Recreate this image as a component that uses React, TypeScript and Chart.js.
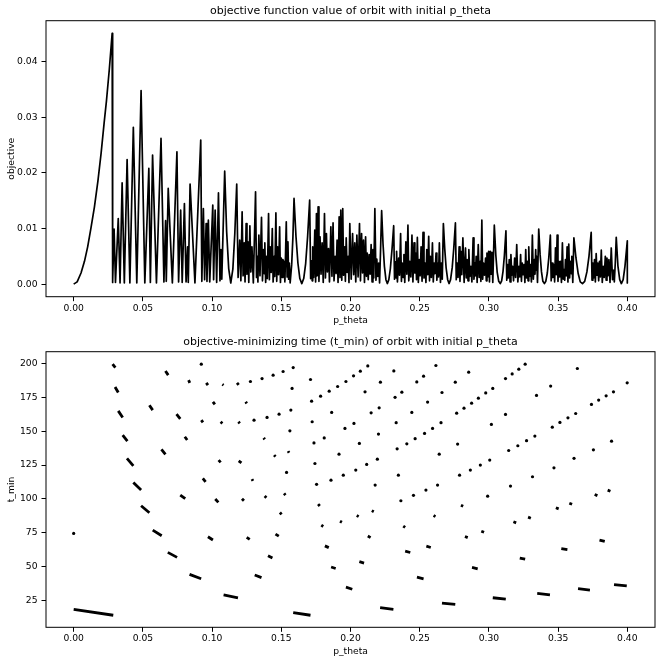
import React, { useRef, useEffect } from "react";
import Chart, { ChartConfiguration } from "chart.js/auto";

Chart.defaults.font.family = "'DejaVu Sans', sans-serif";
Chart.defaults.color = "#000";

const xTicks = [0, 0.05, 0.1, 0.15, 0.2, 0.25, 0.3, 0.35, 0.4];
const objectiveTicks = [0, 0.01, 0.02, 0.03, 0.04];
const tMinTicks = [25, 50, 75, 100, 125, 150, 175, 200];

// [p_theta, objective]
const objectiveCurve: [number, number][] = [
	[0, 0], [0.0025, 0.0004], [0.0053, 0.002], [0.0078, 0.0041], [0.0101, 0.0067], [0.0125, 0.0101],
	[0.015, 0.0139], [0.0175, 0.0185], [0.0198, 0.0235], [0.022, 0.029], [0.0237, 0.033], [0.0257, 0.0385],
	[0.0278, 0.0451], [0.0279, 0.0003],
	[0.0284, 0.0006], [0.0292, 0.0099], [0.0302, 0.0003], [0.0322, 0.0118], [0.0335, 0.0002], [0.035, 0.0182],
	[0.0366, 0.0002], [0.0386, 0.0224], [0.0406, 0.0002], [0.0431, 0.0282], [0.0456, 0.0002], [0.0487, 0.0348],
	[0.0514, 0.0002], [0.0543, 0.0208], [0.0554, 0.0003], [0.057, 0.0232], [0.0598, 0.0002], [0.0631, 0.0262],
	[0.0652, 0.0004], [0.0664, 0.0114], [0.0669, 0.0005], [0.0683, 0.0172], [0.0713, 0.0002], [0.0746, 0.0238],
	[0.0758, 0.0004], [0.0773, 0.0133], [0.0784, 0.0003], [0.08, 0.0145], [0.0812, 0.0004], [0.0823, 0.0067],
	[0.0828, 0.0003], [0.0841, 0.018], [0.0876, 0.0002], [0.0918, 0.0259], [0.0926, 0.0005], [0.0937, 0.0136],
	[0.0946, 0.0008], [0.0957, 0.0109], [0.0963, 0.0005], [0.0973, 0.0115], [0.0983, 0.0004], [0.1005, 0.0142],
	[0.1011, 0.0008], [0.1022, 0.0133], [0.1033, 0.0003], [0.1046, 0.0164], [0.1057, 0.0006], [0.1064, 0.0062],
	[0.107, 0.0009], [0.1091, 0.0203],
	[0.1105, 0.0095], [0.112, 0.0028], [0.1135, 0.0002], [0.115, 0.0027], [0.1164, 0.009], [0.1178, 0.018],
	[0.1188, 0.0012], [0.12, 0.0079], [0.1208, 0.0006], [0.1217, 0.013], [0.1224, 0.0015], [0.1232, 0.0074],
	[0.1238, 0.0004], [0.1246, 0.0109], [0.1252, 0.0018], [0.1259, 0.0076], [0.1265, 0.0003], [0.1273, 0.0105],
	[0.128, 0.0022], [0.1288, 0.0067], [0.1298, 0.0002], [0.1314, 0.0166], [0.1321, 0.0012], [0.1326, 0.005],
	[0.1331, 0.0004], [0.1338, 0.0088], [0.1346, 0.0015], [0.1357, 0.012], [0.1364, 0.0006], [0.1372, 0.0062],
	[0.1376, 0.0019], [0.1381, 0.0074], [0.1387, 0.0003], [0.1394, 0.005], [0.1399, 0.001], [0.1408, 0.0127],
	[0.1414, 0.0008], [0.142, 0.0067], [0.1427, 0.0021], [0.1435, 0.01], [0.1441, 0.0004], [0.1449, 0.005],
	[0.1453, 0.0014], [0.1461, 0.0128], [0.1467, 0.0005], [0.1473, 0.0067], [0.148, 0.0017], [0.1488, 0.0103],
	[0.1494, 0.0003], [0.15, 0.0047], [0.1506, 0.0012], [0.1512, 0.0044], [0.1516, 0.0018], [0.1519, 0.0041],
	[0.1526, 0.0004], [0.1536, 0.0112], [0.1542, 0.0013], [0.1548, 0.0076], [0.1553, 0.0009], [0.1558, 0.0038],
	[0.1564, 0.0002], [0.1575, 0.0035], [0.1584, 0.0085], [0.1592, 0.0154],
	[0.1606, 0.0086], [0.162, 0.0038], [0.1634, 0.001], [0.1648, 0.0001], [0.1662, 0.001], [0.1676, 0.0037],
	[0.169, 0.0085], [0.1705, 0.0151],
	[0.1712, 0.001], [0.1719, 0.0042], [0.1723, 0.0006], [0.1727, 0.0067], [0.1734, 0.0012], [0.1742, 0.0097],
	[0.1748, 0.0004], [0.1754, 0.0127], [0.1759, 0.0015], [0.1766, 0.0139], [0.1772, 0.0005], [0.178, 0.0085],
	[0.1787, 0.0018], [0.1795, 0.0074], [0.1803, 0.0003], [0.1812, 0.0127], [0.1819, 0.0011], [0.1826, 0.0091],
	[0.1833, 0.0022], [0.1841, 0.0064], [0.1848, 0.0004], [0.1858, 0.0103], [0.1866, 0.0014], [0.1874, 0.011],
	[0.1881, 0.0006], [0.1889, 0.005], [0.1896, 0.0019], [0.1903, 0.0079], [0.191, 0.0003], [0.1918, 0.0121],
	[0.1924, 0.0012], [0.193, 0.0133], [0.1937, 0.0007], [0.1944, 0.0136], [0.195, 0.0016], [0.1957, 0.0067],
	[0.1963, 0.0005], [0.1969, 0.0083], [0.1976, 0.0021], [0.1983, 0.005], [0.1989, 0.0003], [0.1995, 0.0109],
	[0.2005, 0.0009], [0.2015, 0.0091], [0.2023, 0.0017], [0.2031, 0.0074], [0.2038, 0.0004], [0.2046, 0.0088],
	[0.2055, 0.0013], [0.2065, 0.0109], [0.2072, 0.0006], [0.208, 0.0091], [0.2087, 0.002], [0.2094, 0.0079],
	[0.2101, 0.0003], [0.2109, 0.0085], [0.2115, 0.0014], [0.2121, 0.0056], [0.2128, 0.0008], [0.2135, 0.0053],
	[0.2142, 0.0018], [0.2149, 0.0071], [0.2156, 0.0004], [0.2162, 0.0062], [0.2168, 0.0011], [0.2176, 0.0136],
	[0.2184, 0.0007], [0.219, 0.0045], [0.2197, 0.0014], [0.2204, 0.0038], [0.221, 0.0002], [0.2217, 0.006],
	[0.2225, 0.0132],
	[0.2235, 0.0072], [0.2245, 0.0032], [0.2256, 0.0008], [0.2266, 0.0001], [0.2277, 0.0008], [0.2288, 0.0028],
	[0.23, 0.0063], [0.2312, 0.0105],
	[0.2318, 0.0009], [0.2325, 0.004], [0.2329, 0.0011], [0.2333, 0.0059], [0.2339, 0.0004], [0.2348, 0.0047],
	[0.2354, 0.0016], [0.2362, 0.0091], [0.2368, 0.0005], [0.2374, 0.0038], [0.238, 0.0012], [0.2386, 0.0053],
	[0.2392, 0.0003], [0.24, 0.0076], [0.2407, 0.0018], [0.2415, 0.0106], [0.2421, 0.0006], [0.2428, 0.0041],
	[0.2436, 0.0013], [0.2444, 0.0088], [0.2451, 0.0004], [0.2459, 0.0074], [0.2465, 0.002], [0.2471, 0.0056],
	[0.2477, 0.0008], [0.2483, 0.0084], [0.249, 0.0003], [0.2497, 0.0044], [0.2503, 0.0015], [0.251, 0.0067],
	[0.2517, 0.0005], [0.2524, 0.0093], [0.2531, 0.0011], [0.2539, 0.0038], [0.2545, 0.0003], [0.2551, 0.0062],
	[0.2558, 0.0017], [0.2565, 0.0086], [0.2571, 0.0006], [0.2577, 0.005], [0.2584, 0.0012], [0.2592, 0.0074],
	[0.2598, 0.0004], [0.2604, 0.0038], [0.2611, 0.0019], [0.2618, 0.0056], [0.2624, 0.0007], [0.263, 0.0038],
	[0.2636, 0.0013], [0.2642, 0.0074], [0.265, 0.0003], [0.2657, 0.0038], [0.2663, 0.0009], [0.2671, 0.0109],
	[0.2681, 0.0063], [0.2691, 0.0029], [0.2702, 0.0008], [0.2712, 0.0001], [0.2723, 0.0008], [0.2735, 0.003],
	[0.2746, 0.0064], [0.2758, 0.011],
	[0.2764, 0.0008], [0.277, 0.0038], [0.2777, 0.0012], [0.2785, 0.0067], [0.2791, 0.0005], [0.2797, 0.0059],
	[0.2804, 0.0017], [0.2812, 0.0083], [0.2821, 0.0003], [0.2831, 0.0065], [0.2837, 0.0011], [0.2843, 0.0044],
	[0.2849, 0.0006], [0.2855, 0.0062], [0.2862, 0.0014], [0.287, 0.0032], [0.2877, 0.0004], [0.2886, 0.0083],
	[0.2892, 0.0009], [0.2899, 0.0038], [0.2903, 0.0015], [0.2908, 0.005], [0.2915, 0.0003], [0.2923, 0.0071],
	[0.293, 0.0012], [0.2937, 0.0041], [0.2942, 0.0005], [0.2949, 0.0115], [0.2955, 0.0009], [0.2961, 0.0038],
	[0.2968, 0.0016], [0.2976, 0.0047], [0.2981, 0.0006], [0.2986, 0.0056], [0.2992, 0.0013], [0.2998, 0.0059],
	[0.3004, 0.0004], [0.301, 0.0059], [0.3016, 0.0018], [0.3022, 0.0057], [0.3028, 0.0003], [0.3039, 0.0106],
	[0.305, 0.0052], [0.306, 0.0021], [0.3071, 0.0005], [0.3082, 0.0001], [0.3092, 0.0006], [0.3102, 0.0023],
	[0.3112, 0.0052], [0.3123, 0.0096],
	[0.3129, 0.0007], [0.3135, 0.0035], [0.314, 0.0011], [0.3147, 0.0044], [0.3153, 0.0004], [0.3159, 0.0053],
	[0.3165, 0.0016], [0.3171, 0.0032], [0.3178, 0.0006], [0.3186, 0.0047], [0.3193, 0.0012], [0.3201, 0.0071],
	[0.3209, 0.0004], [0.3217, 0.0032], [0.3223, 0.0013], [0.3229, 0.0053], [0.3235, 0.0005], [0.3241, 0.0038],
	[0.3247, 0.0017], [0.3254, 0.0035], [0.326, 0.0003], [0.3266, 0.0062], [0.3272, 0.0011], [0.3278, 0.0041],
	[0.3283, 0.0006], [0.3288, 0.0067], [0.3294, 0.0014], [0.33, 0.0035], [0.3307, 0.0004], [0.3314, 0.0088],
	[0.3321, 0.0009], [0.3329, 0.0044], [0.3333, 0.0018], [0.3338, 0.0062], [0.3341, 0.0025], [0.3345, 0.005],
	[0.3351, 0.0003], [0.336, 0.0099],
	[0.337, 0.0053], [0.338, 0.0022], [0.339, 0.0005], [0.3401, 0.0001], [0.3411, 0.0005], [0.3422, 0.002],
	[0.3433, 0.0048], [0.3444, 0.0088],
	[0.345, 0.0006], [0.3456, 0.0038], [0.3462, 0.0012], [0.3469, 0.0035], [0.3475, 0.0004], [0.3481, 0.0065],
	[0.3487, 0.0017], [0.3493, 0.0088], [0.3499, 0.0005], [0.3505, 0.0041], [0.3511, 0.0013], [0.3517, 0.0041],
	[0.3524, 0.0003], [0.3531, 0.0074], [0.3537, 0.0009], [0.3543, 0.0026], [0.3548, 0.0007], [0.3553, 0.0044],
	[0.3559, 0.0015], [0.3565, 0.0067], [0.3571, 0.0004], [0.3577, 0.0072], [0.3583, 0.0011], [0.3589, 0.0041],
	[0.3594, 0.0019], [0.3599, 0.005], [0.3606, 0.0003], [0.3614, 0.0083],
	[0.3629, 0.0047], [0.3645, 0.0019], [0.366, 0.0004], [0.3676, 0.0001], [0.3692, 0.0005], [0.3708, 0.0022],
	[0.3723, 0.005], [0.3739, 0.0093],
	[0.3745, 0.0007], [0.3751, 0.0038], [0.3757, 0.0011], [0.3763, 0.0044], [0.3769, 0.0004], [0.3775, 0.0055],
	[0.3781, 0.0016], [0.3787, 0.0038], [0.3793, 0.0006], [0.3799, 0.0041], [0.3805, 0.0013], [0.3812, 0.0061],
	[0.3819, 0.0003], [0.3826, 0.0032], [0.3833, 0.0012], [0.3841, 0.005], [0.3847, 0.0007], [0.3853, 0.0047],
	[0.386, 0.0015], [0.3867, 0.0044], [0.3875, 0.0003], [0.3884, 0.0065], [0.3893, 0.0008], [0.3901, 0.0025],
	[0.3906, 0.0004], [0.3913, 0.0038], [0.392, 0.0084],
	[0.3932, 0.0033], [0.3945, 0.0008], [0.3957, 0.0001], [0.397, 0.0008], [0.3983, 0.0032], [0.4, 0.0078],
	[0.4, 0.0002],
];

// [p_theta start, t_min start, p_theta end, t_min end]
const tMinDashes: [number, number, number, number][] = [
	[0.0, 18.6, 0.0286, 14.2], [0.0281, 199.6, 0.0301, 197], [0.0299, 182.7, 0.0322, 178.6],
	[0.0322, 165, 0.0354, 160.2], [0.0354, 147.1, 0.0388, 142.7], [0.0385, 130, 0.0431, 124.5],
	[0.0431, 112.2, 0.0487, 106.6], [0.0487, 95, 0.0547, 89.8], [0.0571, 77, 0.0636, 72.9],
	[0.068, 60.6, 0.0747, 56.9], [0.0837, 44.4, 0.0921, 41.1], [0.1083, 29.3, 0.1187, 27.1],
	[0.1586, 16.1, 0.1711, 14.2], [0.2214, 19.8, 0.231, 18.6], [0.2661, 23.2, 0.2757, 22.2],
	[0.3028, 27.1, 0.3122, 26.1], [0.3349, 30.4, 0.3441, 29.3], [0.3644, 33.8, 0.373, 32.8],
	[0.3904, 36.8, 0.3996, 35.8],
	[0.0663, 194.5, 0.0683, 191.4], [0.0547, 169.2, 0.0571, 165.6], [0.0634, 136.6, 0.0663, 132.9],
	[0.077, 102.9, 0.0806, 100.2], [0.097, 72.1, 0.1006, 69.7], [0.1308, 43.9, 0.1357, 42],
	[0.1967, 34.9, 0.2013, 33.4], [0.248, 42.3, 0.2528, 41.1], [0.2878, 49.5, 0.2919, 48.5],
	[0.3223, 56.4, 0.3262, 55.6], [0.3523, 63.3, 0.3567, 62.6], [0.3799, 69.7, 0.3837, 68.7],
	[0.083, 187.7, 0.0839, 185.7], [0.0958, 185.7, 0.097, 184], [0.1074, 184.6, 0.1083, 184],
	[0.118, 185.7, 0.1192, 184.2], [0.1006, 171.7, 0.102, 169.8], [0.0743, 162.6, 0.077, 159.1],
	[0.0922, 158.2, 0.0934, 156.5], [0.1062, 157, 0.1074, 155.8], [0.119, 157, 0.12, 155.8],
	[0.0803, 145.9, 0.082, 143.5], [0.1047, 128.7, 0.1062, 127], [0.1192, 128.2, 0.1212, 126.7],
	[0.0933, 115.2, 0.0953, 112.7], [0.1023, 100, 0.1045, 97.5],
	[0.1243, 171.7, 0.125, 170.5], [0.1373, 145.1, 0.138, 144], [0.1448, 132.4, 0.1458, 131.2],
	[0.1549, 135.3, 0.1556, 134.1], [0.1288, 114.7, 0.1295, 113.4], [0.1216, 100.2, 0.123, 98.7],
	[0.138, 102.2, 0.1392, 100.9], [0.152, 104.1, 0.153, 102.9], [0.125, 71.7, 0.1272, 70.2],
	[0.1458, 74.1, 0.1482, 72.6], [0.1404, 58.1, 0.1436, 56.4],
	[0.2395, 61.5, 0.2432, 60.5], [0.2064, 53.7, 0.2098, 52.7], [0.186, 49.8, 0.1893, 48.7],
	[0.1815, 65.4, 0.1843, 64.1], [0.2125, 72.7, 0.2145, 71.5], [0.2548, 65.2, 0.258, 64.2],
	[0.2827, 72.3, 0.2847, 71.5], [0.2945, 76.2, 0.2965, 75.4], [0.3177, 83.2, 0.3197, 82.4],
	[0.3283, 86.6, 0.3303, 85.8], [0.3484, 93.5, 0.3504, 92.7], [0.3581, 96.9, 0.3601, 96.1],
	[0.3764, 103.3, 0.3784, 102.5], [0.3858, 106.5, 0.3878, 105.7], [0.2798, 95.4, 0.2814, 94.6],
	[0.1789, 80.7, 0.1803, 79.7], [0.1924, 83.6, 0.1938, 82.8], [0.2045, 87.8, 0.2059, 87],
	[0.2154, 91.4, 0.2168, 90.6], [0.2381, 80, 0.2395, 79], [0.26, 87.8, 0.2614, 87],
	[0.149, 90, 0.1502, 88.6], [0.1766, 96.2, 0.1778, 94.8],
];

// [p_theta, t_min]
const tMinDots: [number, number][] = [
	[0.0, 74.6], [0.0922, 199.5],
	[0.1277, 186.7], [0.1361, 188.9], [0.1441, 191.4], [0.1513, 194.1], [0.1586, 197], [0.1578, 181.6],
	[0.1711, 188.2], [0.1719, 172.2], [0.1784, 175.9], [0.1846, 179.6], [0.1907, 183], [0.1967, 186.7],
	[0.2022, 190.9], [0.2071, 194.3], [0.2125, 198.2], [0.2105, 179.1], [0.2216, 186.2], [0.2313, 194.5],
	[0.2322, 175], [0.2371, 178.8], [0.2479, 186.4], [0.2528, 190.6], [0.2617, 198.5], [0.2557, 171.5],
	[0.2661, 178.6],
	[0.1303, 158.2], [0.1397, 160.2], [0.1484, 162.6], [0.1569, 165.6], [0.1562, 150.3], [0.1723, 157],
	[0.1864, 163.9], [0.196, 152.1], [0.2025, 155.8], [0.2149, 163.6], [0.2207, 167.3], [0.2202, 147.9],
	[0.233, 156.3], [0.2443, 163.9], [0.2654, 156.3], [0.2593, 152.1], [0.2535, 148.4], [0.2467, 144.5],
	[0.2407, 140.7], [0.2337, 137], [0.1736, 141.4], [0.181, 145.1], [0.2064, 141],
	[0.1917, 133.1], [0.1743, 126.2], [0.2117, 125.5], [0.2194, 129.4], [0.2038, 121.3], [0.1948, 117.6],
	[0.1859, 113.9], [0.1755, 110.8], [0.1538, 119.6], [0.2346, 117.6], [0.2178, 110.3], [0.2641, 133.1],
	[0.2629, 110.3], [0.2545, 106.6], [0.2455, 102.7], [0.2364, 98.7],
	[0.2854, 193.6], [0.2757, 186.2], [0.312, 188.9], [0.3168, 192.3], [0.3216, 195.8], [0.3262, 199.5],
	[0.3639, 196.3], [0.3446, 183.3], [0.3344, 176.4], [0.3028, 181.6], [0.2977, 178.3], [0.2924, 174.4],
	[0.2875, 170.7], [0.282, 167], [0.2767, 163.3], [0.3999, 185.7], [0.39, 179.1], [0.3847, 176.1],
	[0.3793, 173], [0.3741, 169.8], [0.3627, 163.1], [0.3571, 159.9], [0.3513, 156.5], [0.3458, 153],
	[0.312, 162.4], [0.3018, 155], [0.3332, 146.4], [0.3272, 143], [0.3209, 139.3], [0.3143, 135.8],
	[0.2774, 140.5], [0.3886, 142.7], [0.3755, 136.3], [0.3615, 130], [0.347, 123], [0.3315, 116.4],
	[0.3156, 109.5], [0.2991, 102.1], [0.3006, 128.7], [0.2938, 125], [0.2866, 121.3], [0.2788, 117.6],
];

const TICK_FONT = { size: 9.2 };

// draws the full axes box (matplotlib style spines)
const framePlugin = {
	id: "frame",
	afterDraw(chart: Chart) {
		const { ctx, chartArea } = chart;
		ctx.save();
		ctx.strokeStyle = "#000";
		ctx.lineWidth = 1;
		ctx.strokeRect(chartArea.left, chartArea.top, chartArea.right - chartArea.left, chartArea.bottom - chartArea.top);
		ctx.restore();
	},
};

function buildScales(yMin: number, yMax: number, yTicks: number[], yLabel: string, xHeight: number, yDigits: number) {
	return {
		x: {
			type: "linear" as const,
			min: -0.02,
			max: 0.42,
			afterBuildTicks: (s: any) => {
				s.ticks = xTicks.map((v) => ({ value: v }));
			},
			afterFit: (s: any) => {
				s.height = xHeight;
			},
			grid: { drawOnChartArea: false, drawTicks: true, tickLength: 4.5, tickColor: "#000" },
			border: { display: false },
			ticks: {
				font: TICK_FONT,
				color: "#000",
				padding: 1.5,
				maxRotation: 0,
				autoSkip: false,
				callback: (v: any) => Number(v).toFixed(2),
			},
			title: { display: true, text: "p_theta", font: TICK_FONT, color: "#000", padding: { top: 0, bottom: 6 } },
		},
		y: {
			type: "linear" as const,
			min: yMin,
			max: yMax,
			afterBuildTicks: (s: any) => {
				s.ticks = yTicks.map((v) => ({ value: v }));
			},
			afterFit: (s: any) => {
				s.width = 46;
			},
			grid: { drawOnChartArea: false, drawTicks: true, tickLength: 4.5, tickColor: "#000" },
			border: { display: false },
			ticks: {
				font: TICK_FONT,
				color: "#000",
				padding: 4,
				autoSkip: false,
				callback: (v: any) => Number(v).toFixed(yDigits),
			},
			title: { display: true, text: yLabel, font: TICK_FONT, color: "#000", padding: { top: 6.2, bottom: 0 } },
		},
	};
}

function basePlugins(title: string) {
	return {
		legend: { display: false },
		tooltip: { enabled: false },
		title: {
			display: true,
			text: title,
			fullSize: false,
			color: "#000",
			font: { size: 11, weight: "normal" as const },
			padding: { top: 5, bottom: 2.5 },
		},
	};
}

function objectiveConfig(): ChartConfiguration {
	return {
		type: "line",
		data: {
			datasets: [
				{
					data: objectiveCurve.map(([x, y]) => ({ x, y })),
					borderColor: "#000",
					borderWidth: 1.7,
					pointRadius: 0,
					tension: 0,
					fill: false,
					borderJoinStyle: "round",
				},
			],
		},
		options: {
			animation: false,
			responsive: false,
			events: [],
			layout: { padding: { left: 0, right: 10, top: 0, bottom: 0 } },
			plugins: basePlugins("objective function value of orbit with initial p_theta"),
			scales: buildScales(-0.00226, 0.04736, objectiveTicks, "objective", 35.3, 2),
		},
		plugins: [framePlugin],
	} as any;
}

function tMinConfig(): ChartConfiguration {
	const dashData = tMinDashes.flatMap(([x1, t1, x2, t2]) => [
		{ x: x1, y: t1 },
		{ x: x2, y: t2 },
		{ x: x2, y: null },
	]);
	return {
		type: "line",
		data: {
			datasets: [
				{
					data: dashData,
					borderColor: "#000",
					borderWidth: 2.8,
					pointRadius: 0,
					tension: 0,
					fill: false,
					spanGaps: false,
					borderCapStyle: "butt",
				},
				{
					type: "scatter",
					data: tMinDots.map(([x, y]) => ({ x, y })),
					pointRadius: 1.6,
					pointBackgroundColor: "#000",
					pointBorderWidth: 0,
					showLine: false,
				},
			],
		},
		options: {
			animation: false,
			responsive: false,
			events: [],
			layout: { padding: { left: 0, right: 10, top: 0, bottom: 0 } },
			plugins: basePlugins("objective-minimizing time (t_min) of orbit with initial p_theta"),
			scales: buildScales(5.3, 208.7, tMinTicks, "t_min", 35.7, 0),
		},
		plugins: [framePlugin],
	} as any;
}

function ChartPanel({ build, top }: { build: () => ChartConfiguration; top: number }) {
	const canvasRef = useRef<HTMLCanvasElement>(null);
	const chartInstance = useRef<Chart | null>(null);

	useEffect(() => {
		if (!canvasRef.current) return;
		chartInstance.current = new Chart(canvasRef.current, build());
		return () => {
			if (chartInstance.current) {
				chartInstance.current.destroy();
				chartInstance.current = null;
			}
		};
	}, [build]);

	return (
		<div style={{ position: "absolute", left: 0, top, width: 665, height: 332 }}>
			<canvas ref={canvasRef} width={665} height={332} style={{ width: 665, height: 332 }}></canvas>
		</div>
	);
}

export default function App() {
	return (
		<div style={{ position: "absolute", left: 0, top: 0, width: 665, height: 663, background: "#fff" }}>
			<ChartPanel build={objectiveConfig} top={0} />
			<ChartPanel build={tMinConfig} top={331} />
		</div>
	);
}
